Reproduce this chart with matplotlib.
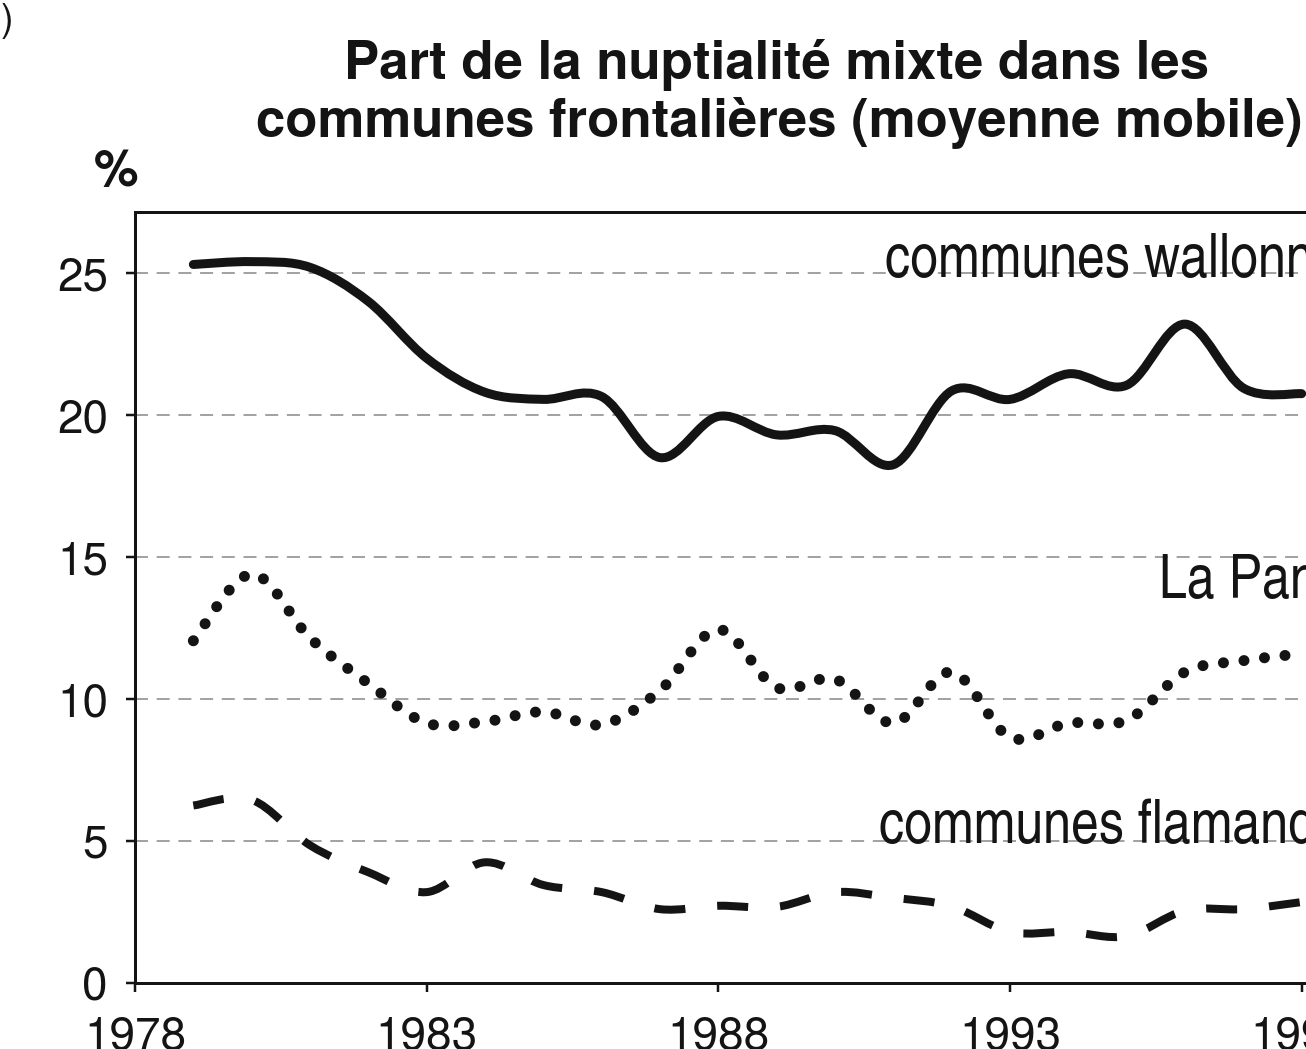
import matplotlib
matplotlib.use("Agg")
import matplotlib.pyplot as plt
from matplotlib.path import Path
from matplotlib.patches import PathPatch
import numpy as np

plt.rcParams['lines.scale_dashes'] = False

# ---------------- data ----------------
years = [1979, 1980, 1981, 1982, 1983, 1984, 1985, 1986, 1987, 1988,
         1989, 1990, 1991, 1992, 1993, 1994, 1995, 1996, 1997, 1998]
wallonnes = [25.3, 25.4, 25.2, 24.0, 22.0, 20.8, 20.55, 20.65, 18.5, 19.95,
             19.3, 19.45, 18.25, 20.85, 20.55, 21.45, 21.05, 23.2, 20.95, 20.75]
la_panne = [12.05, 14.4, 12.15, 10.55, 9.15, 9.2, 9.55, 9.1, 10.3, 12.45,
            10.4, 10.7, 9.15, 10.95, 8.65, 9.15, 9.25, 10.95, 11.35, 11.6]
flamandes = [6.25, 6.45, 4.85, 3.9, 3.2, 4.25, 3.45, 3.2, 2.6, 2.72,
             2.68, 3.2, 3.0, 2.7, 1.8, 1.8, 1.65, 2.55, 2.6, 2.85]

xticks = [1978, 1983, 1988, 1993, 1998]
yticks = [0, 5, 10, 15, 20, 25]
title_lines = ["Part de la nuptialité mixte dans les",
               "communes frontalières (moyenne mobile)"]
series_labels = ["communes wallonnes", "La Panne", "communes flamandes"]

# ---------------- figure ----------------
W, H = 1306, 1049
DPI = 100
PT = 72.0 / DPI  # points per pixel
fig = plt.figure(figsize=(W / DPI, H / DPI), dpi=DPI)
fig.patch.set_facecolor("white")

x0, x1 = 1978, 2000
px_per_year = (1010 - 135) / 15.0
right_px = 135 + (x1 - x0) * px_per_year
ax = fig.add_axes([135 / W, 1 - 983 / H, (right_px - 135) / W, (983 - 212) / H])
ax.set_xlim(x0, x1)
ax.set_ylim(0, (983 - 212) / 28.4)

COND = ["TeX Gyre Heros Cn", "Liberation Sans", "DejaVu Sans"]
SANS = ["TeX Gyre Heros", "Liberation Sans", "DejaVu Sans"]
INK = "#141414"

# grid lines
for v in yticks[1:]:
    ax.axhline(v, color="#a3a3a3", lw=2 * PT, ls=(0, (13 * PT, 8.7 * PT)), zorder=1)


def smooth_path(xs, ys):
    xs = np.asarray(xs, float)
    ys = np.asarray(ys, float)
    P = np.column_stack([xs, ys])
    n = len(P)
    verts = [P[0]]
    codes = [Path.MOVETO]
    for i in range(n - 1):
        p0 = P[i - 1] if i > 0 else P[i]
        p1 = P[i]
        p2 = P[i + 1]
        p3 = P[i + 2] if i + 2 < n else P[i + 1]
        c1 = p1 + (p2 - p0) / 6.0
        c2 = p2 - (p3 - p1) / 6.0
        verts += [c1, c2, p2]
        codes += [Path.CURVE4] * 3
    return Path(np.array(verts), codes)


ax.add_patch(PathPatch(smooth_path(years, wallonnes), fill=False, edgecolor=INK,
                       lw=9 * PT, capstyle="round", joinstyle="round", zorder=3))
ax.add_patch(PathPatch(smooth_path(years, la_panne), fill=False, edgecolor=INK,
                       lw=11 * PT, ls=(0, (0.05, 20.6 * PT)), capstyle="round", zorder=3))
ax.add_patch(PathPatch(smooth_path(years, flamandes), fill=False, edgecolor=INK,
                       lw=8 * PT, ls=(0, (31 * PT, 32 * PT)), capstyle="butt", zorder=3))

# spines & ticks
for s in ["left", "bottom", "top", "right"]:
    ax.spines[s].set_linewidth(3 * PT)
    ax.spines[s].set_color(INK)
ax.set_xticks(xticks)
ax.set_xticklabels([str(t) for t in xticks])
ax.set_yticks(yticks)
ax.set_yticklabels([str(t) for t in yticks])
ax.tick_params(axis="both", direction="out", length=9 * PT, width=2.5 * PT,
               color=INK, labelsize=33, labelcolor=INK)
ax.tick_params(axis="x", pad=17)
ax.tick_params(axis="y", pad=13)
for lab in ax.get_xticklabels() + ax.get_yticklabels():
    lab.set_family(SANS)


def xd(px):
    return x0 + (px - 135) / px_per_year


def yd(py):
    return (983 - py) / 28.4


# series labels
ax.text(xd(885), yd(277), series_labels[0], family=COND, fontsize=44,
        ha="left", va="baseline", color=INK, zorder=4)
ax.text(xd(1159), yd(598), series_labels[1], family=COND, fontsize=44,
        ha="left", va="baseline", color=INK, zorder=4)
ax.text(xd(879), yd(843), series_labels[2], family=COND, fontsize=44,
        ha="left", va="baseline", color=INK, zorder=4)

# title and unit
fig.text(777 / W, 1 - 79 / H, title_lines[0], family=SANS, fontweight="bold",
         fontsize=38, ha="center", va="baseline", color=INK)
fig.text(779 / W, 1 - 137 / H, title_lines[1], family=SANS, fontweight="bold",
         fontsize=38, ha="center", va="baseline", color=INK)
fig.text(116 / W, 1 - 186 / H, "%", family=SANS, fontweight="bold",
         fontsize=36, ha="center", va="baseline", color=INK)
fig.text(13 / W, 1 - 31 / H, ")", family=SANS, fontsize=28,
         ha="right", va="baseline", color=INK)

fig.savefig("out.png", dpi=DPI)
